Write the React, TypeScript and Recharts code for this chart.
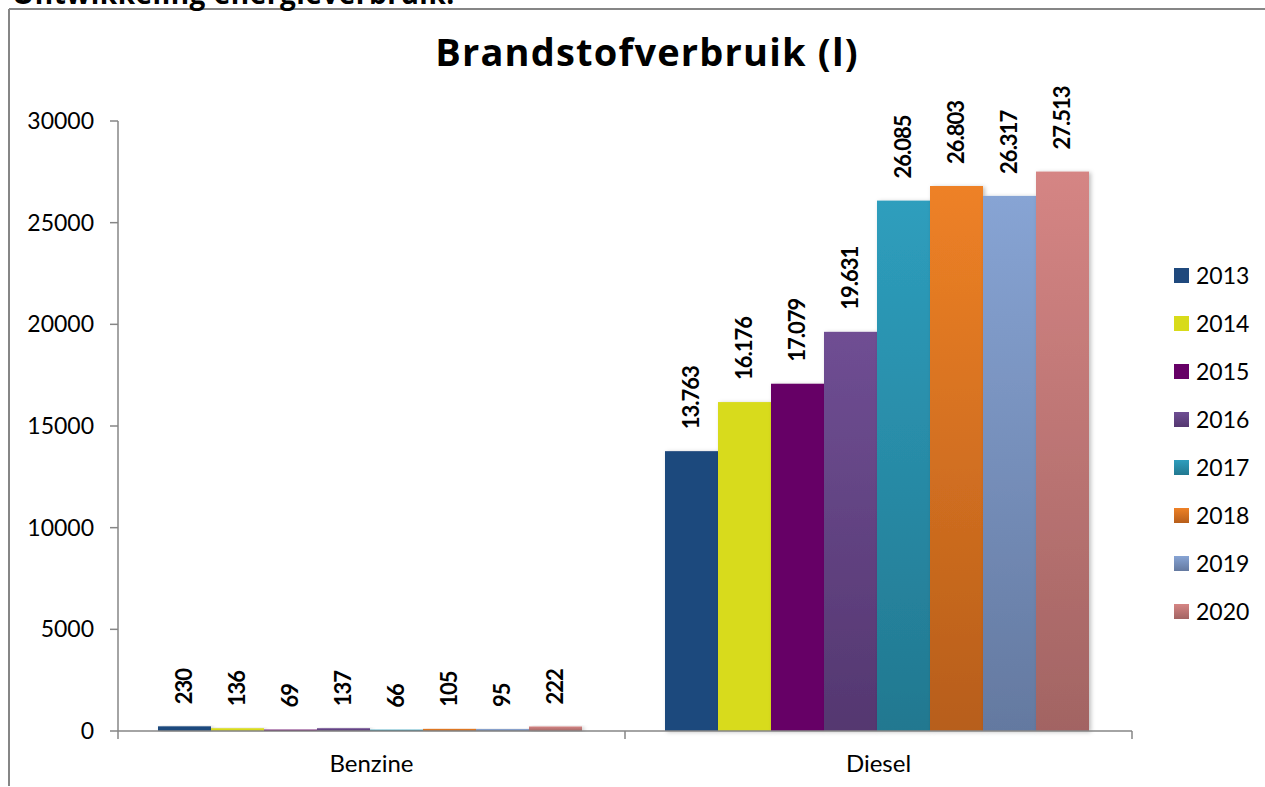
import React from 'react';
import { BarChart, Bar, XAxis, YAxis, Legend, LabelList } from 'recharts';

const categories = ['Benzine', 'Diesel'];
const years = ['2013', '2014', '2015', '2016', '2017', '2018', '2019', '2020'];
const v2013 = [230, 13763];
const v2014 = [136, 16176];
const v2015 = [69, 17079];
const v2016 = [137, 19631];
const v2017 = [66, 26085];
const v2018 = [105, 26803];
const v2019 = [95, 26317];
const v2020 = [222, 27513];
const yTicks = [0, 5000, 10000, 15000, 20000, 25000, 30000];

const seriesValues = [v2013, v2014, v2015, v2016, v2017, v2018, v2019, v2020];
const colorsTop = ['#1F497D', '#D8DB1A', '#660066', '#6F4E93', '#2E9EBD', '#EE8126', '#87A4D4', '#D58584'];
const colorsBottom = ['#1F497D', '#D8DB1A', '#660066', '#543770', '#227890', '#B75E1B', '#6479A0', '#A26463'];

const data = categories.map((c, i) => {
  const row: any = { category: c };
  years.forEach((y, j) => {
    row[y] = seriesValues[j][i];
  });
  return row;
});

const FONT = 'Lato, "Open Sans", sans-serif';
const TITLE_FONT = '"Open Sans", Lato, sans-serif';
const AXIS = '#868686';

const fmt = (n: number) => String(n).replace(/\B(?=(\d{3})+(?!\d))/g, '.');

const renderLabel = (props: any) => {
  const vb = props.viewBox || {};
  const x = props.x ?? vb.x;
  const y = props.y ?? vb.y;
  const w = props.width ?? vb.width;
  const h = props.height ?? vb.height;
  const top = Math.min(y, y + h);
  const cx = x + w / 2;
  const ly = top - 22;
  return (
    <text
      x={cx}
      y={ly}
      transform={`rotate(-90 ${cx} ${ly})`}
      textAnchor="start"
      dy="0.36em"
      fontFamily={FONT}
      fontWeight={700}
      fontSize={22}
      letterSpacing={-1}
      fill="#000"
    >
      {fmt(props.value)}
    </text>
  );
};

const CatTick = (props: any) => {
  const { x, y, payload, width, visibleTicksCount, index } = props;
  const band = width / visibleTicksCount;
  const y1 = y - 24;
  const y2 = y - 16;
  return (
    <g>
      <line x1={x - band / 2} x2={x - band / 2} y1={y1} y2={y2} stroke={AXIS} strokeWidth={1.5} />
      {index === visibleTicksCount - 1 && (
        <line x1={x + band / 2} x2={x + band / 2} y1={y1} y2={y2} stroke={AXIS} strokeWidth={1.5} />
      )}
      <text x={x} y={y} dy="0.71em" textAnchor="middle" fontFamily={FONT} fontSize={24} fill="#000">
        {payload.value}
      </text>
    </g>
  );
};

const LegendContent = () => (
  <div style={{ fontFamily: FONT, fontSize: 23, color: '#000' }}>
    {years.map((y, j) => (
      <div key={y} style={{ height: 48, display: 'flex', alignItems: 'center' }}>
        <div
          style={{
            width: 15,
            height: 15,
            background: `linear-gradient(${colorsTop[j]}, ${colorsBottom[j]})`,
            marginRight: 7,
          }}
        />
        <span style={{ lineHeight: '48px' }}>{y}</span>
      </div>
    ))}
  </div>
);

const BarShape = (p: any) => (
  <rect x={p.x} y={p.y} width={p.width} height={p.height} fill={p.fill} filter="url(#barShadow)" />
);

export default function App() {
  return (
    <div style={{ position: 'absolute', left: 0, top: 0, width: 1265, height: 787, background: '#fff' }}>
      <svg width={1265} height={787} style={{ position: 'absolute', left: 0, top: 0 }}>
        <line x1={9} y1={9} x2={1265} y2={9} stroke={AXIS} strokeWidth={2} />
        <line x1={9} y1={9} x2={9} y2={786} stroke={AXIS} strokeWidth={2} />
        <text x={12} y={4} fontFamily={TITLE_FONT} fontWeight={700} fontSize={28} letterSpacing={0.5} fill="#000">
          Ontwikkeling energieverbruik:
        </text>
        <text
          x={647}
          y={66}
          textAnchor="middle"
          fontFamily={TITLE_FONT}
          fontWeight={700}
          fontSize={38}
          letterSpacing={1.2}
          fill="#000"
        >
          Brandstofverbruik (l)
        </text>
      </svg>
      <div style={{ position: 'absolute', left: 0, top: 0 }}>
        <BarChart
          width={1265}
          height={787}
          data={data}
          margin={{ top: 121, right: 133, bottom: 16, left: 38 }}
          barCategoryGap={40}
          barGap={0}
        >
          <defs>
            {years.map((y, j) => (
              <linearGradient key={y} id={`grad${y}`} x1="0" y1="0" x2="0" y2="1">
                <stop offset="0%" stopColor={colorsTop[j]} />
                <stop offset="100%" stopColor={colorsBottom[j]} />
              </linearGradient>
            ))}
            <filter id="barShadow" x="-20%" y="-20%" width="140%" height="140%">
              <feDropShadow dx="2" dy="1" stdDeviation="2" floodColor="#000" floodOpacity="0.25" />
            </filter>
          </defs>
          <XAxis
            dataKey="category"
            height={40}
            tickSize={8}
            tickMargin={16}
            tickLine={false}
            axisLine={{ stroke: AXIS, strokeWidth: 1.5 }}
            tick={<CatTick />}
            interval={0}
          />
          <YAxis
            width={80}
            domain={[0, 30000]}
            ticks={yTicks}
            interval={0}
            tickSize={8}
            tickMargin={16}
            axisLine={{ stroke: AXIS, strokeWidth: 1.5 }}
            tickLine={{ stroke: AXIS, strokeWidth: 1.5 }}
            tick={{ fontFamily: FONT, fontSize: 23, fill: '#000' }}
          />
          <Legend
            layout="horizontal"
            align="center"
            verticalAlign="middle"
            content={<LegendContent />}
            wrapperStyle={{ left: 1174, top: 251, width: 90, height: 48 * 8 }}
          />
          {years.map((y) => (
            <Bar
              key={y}
              dataKey={y}
              name={y}
              fill={`url(#grad${y})`}
              isAnimationActive={false}
              shape={<BarShape />}
            >
              <LabelList dataKey={y} content={renderLabel} />
            </Bar>
          ))}
        </BarChart>
      </div>
    </div>
  );
}
